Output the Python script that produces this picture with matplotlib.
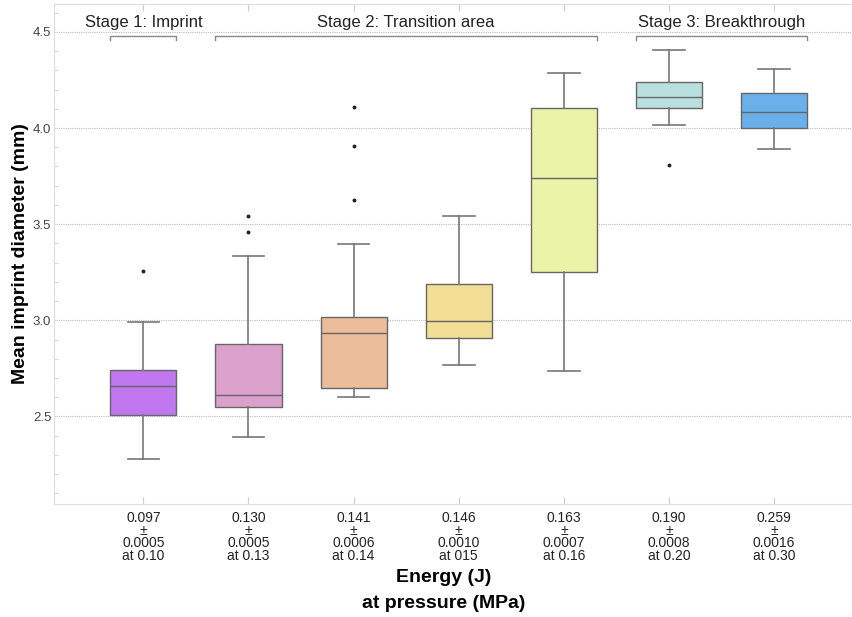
import numpy as np
import matplotlib.pyplot as plt
from matplotlib.ticker import MultipleLocator

plt.rcParams['font.family'] = ['Liberation Sans', 'DejaVu Sans']

# box statistics (mm)
energy = ["0.097", "0.130", "0.141", "0.146", "0.163", "0.190", "0.259"]
energy_sd = ["0.0005", "0.0005", "0.0006", "0.0010", "0.0007", "0.0008", "0.0016"]
pressure = ["0.10", "0.13", "0.14", "015", "0.16", "0.20", "0.30"]

whislo = [2.277, 2.393, 2.599, 2.768, 2.739, 4.018, 3.891]
q1 = [2.510, 2.550, 2.649, 2.909, 3.253, 4.102, 4.000]
med = [2.656, 2.614, 2.935, 2.998, 3.740, 4.161, 4.084]
q3 = [2.744, 2.879, 3.018, 3.189, 4.104, 4.239, 4.183]
whishi = [2.989, 3.335, 3.396, 3.544, 4.287, 4.408, 4.308]
fliers = [[3.258], [3.545, 3.458], [4.107, 3.908, 3.627], [], [], [3.808], []]

colors = ["#c077f0", "#dba0cb", "#ebbd9b", "#f2de94", "#ebf3a8", "#badfdf", "#6ab0ea"]

stages = ["Stage 1: Imprint", "Stage 2: Transition area", "Stage 3: Breakthrough"]
stage_span = [(0, 0), (1, 4), (5, 6)]

stats = []
for i in range(len(energy)):
    stats.append(dict(whislo=whislo[i], q1=q1[i], med=med[i], q3=q3[i],
                      whishi=whishi[i], fliers=fliers[i]))

fig = plt.figure(figsize=(8.53, 6.17), dpi=100)
ax = fig.add_axes([54 / 853, 1 - 504 / 617, 1 - 54 / 853, 500 / 617])

pos = np.arange(len(energy))
w = 0.63
bp = ax.bxp(stats, positions=pos, widths=w, patch_artist=True,
            boxprops=dict(edgecolor="#666666", linewidth=1.0),
            medianprops=dict(color="#666666", linewidth=1.0),
            whiskerprops=dict(color="#777777", linewidth=1.2),
            capprops=dict(color="#777777", linewidth=1.2),
            capwidths=0.3,
            flierprops=dict(marker="o", markersize=1.8, markerfacecolor="#222222",
                            markeredgecolor="#222222"))
for patch, c in zip(bp["boxes"], colors):
    patch.set_facecolor(c)

ax.set_xlim(-0.85, 6.75)
ax.set_ylim(2.045, 4.645)
ax.yaxis.set_major_locator(MultipleLocator(0.5))
ax.yaxis.set_minor_locator(MultipleLocator(0.1))
ax.yaxis.grid(True, which="major", color="#bbbbbb", linestyle=(0, (1, 1)), linewidth=0.8)
ax.set_axisbelow(True)

labels = [f"{e}\n±\n{s}\nat {p}" for e, s, p in zip(energy, energy_sd, pressure)]
ax.set_xticks(pos)
ax.set_xticklabels(labels, fontsize=10, color="#222222", linespacing=0.88)
ax.tick_params(axis="x", direction="in", length=5, color="#cccccc", top=True, pad=5)
ax.tick_params(axis="y", which="major", direction="in", length=0, labelsize=9.5,
               labelcolor="#444444", pad=2)
ax.tick_params(axis="y", which="minor", direction="in", length=3, color="#cccccc")

for s in ["left", "bottom", "top"]:
    ax.spines[s].set_color("#dddddd")
ax.spines["right"].set_visible(False)

ax.set_ylabel("Mean imprint diameter (mm)", fontsize=14, fontweight="bold")
ax.yaxis.set_label_coords(-0.031, 0.5)
ax.set_xlabel("Energy (J)\nat pressure (MPa)", fontsize=14, fontweight="bold",
              linespacing=1.7)
ax.xaxis.set_label_coords(0.488, -0.13)
ax.xaxis.label.set_va("top")

# stage brackets
yb = 4.479
for name, (a, b) in zip(stages, stage_span):
    x0, x1 = a - w / 2, b + w / 2
    ax.plot([x0, x0, x1, x1], [yb - 0.02, yb, yb, yb - 0.02], color="#888888", lw=1.0)
    ax.text((x0 + x1) / 2, 4.548, name, ha="center", va="center", fontsize=12,
            color="#222222")

fig.savefig("out.png", dpi=100)
